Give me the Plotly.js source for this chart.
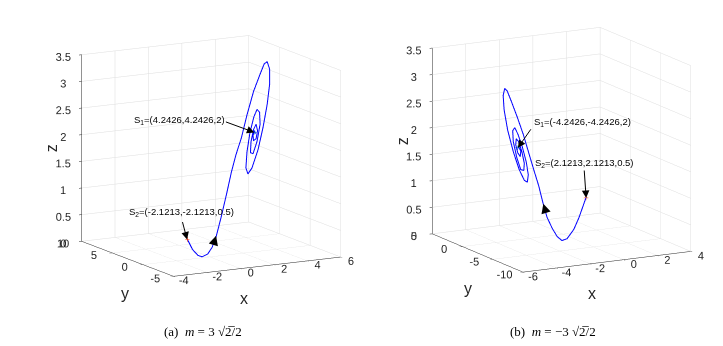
<!DOCTYPE html>
<html>
<head>
<meta charset="utf-8">
<script src="https://cdn.plot.ly/plotly-3.0.1.min.js"></script>
<style>
  body { margin: 0; background: #fff; }
  #plot { width: 723px; height: 346px; }
</style>
</head>
<body>
<div id="plot"></div>
<script>
// trajectory (a), m = 3*sqrt(2)/2
var xa = [-2.12, -1.63, -1.13, -0.73, -0.20, 0.21, 0.62, 1.07, 1.59, 2.04, 2.47, 2.99, 3.52, 4.14, 4.75, 5.13, 5.42, 5.65, 5.65, 5.42, 5.03, 4.56, 3.98, 3.60, 3.41, 3.51, 3.79, 4.17, 4.46, 4.70, 4.75, 4.46, 4.08, 3.84, 3.89, 4.13, 4.37, 4.51, 4.37, 4.13, 4.08, 4.22, 4.32, 4.24];
var ya = [-2.12, -1.63, -1.13, -0.73, -0.20, 0.21, 0.62, 1.07, 1.59, 2.04, 2.47, 2.99, 3.52, 4.14, 4.75, 5.13, 5.42, 5.65, 5.65, 5.42, 5.03, 4.56, 3.98, 3.60, 3.41, 3.51, 3.79, 4.17, 4.46, 4.70, 4.75, 4.46, 4.08, 3.84, 3.89, 4.13, 4.37, 4.51, 4.37, 4.13, 4.08, 4.22, 4.32, 4.24];
var za = [0.50, 0.27, 0.12, 0.06, 0.07, 0.16, 0.35, 0.66, 1.06, 1.43, 1.72, 2.00, 2.39, 2.78, 3.05, 3.21, 3.23, 3.07, 2.79, 2.43, 2.03, 1.65, 1.35, 1.27, 1.40, 1.69, 2.03, 2.30, 2.41, 2.34, 2.11, 1.81, 1.61, 1.65, 1.85, 2.06, 2.14, 2.01, 1.87, 1.85, 1.95, 2.03, 1.97, 2.00];

// trajectory (b), m = -3*sqrt(2)/2
var xb = [2.12, 1.12, 0.48, -0.50, -0.87, -0.94, -1.37, -1.73, -1.87, -2.28, -2.75, -3.22, -3.71, -4.28, -4.84, -5.21, -5.45, -5.59, -5.50, -5.17, -4.65, -4.09, -3.62, -3.34, -3.25, -3.43, -3.81, -4.23, -4.51, -4.70, -4.65, -4.32, -3.95, -3.67, -3.62, -3.85, -4.14, -4.37, -4.42, -4.23, -4.00, -3.95, -4.14, -4.20, -4.24];
var yb = [2.12, 0.51, -0.42, -2.02, -2.21, -1.61, -1.98, -2.13, -1.87, -2.28, -2.75, -3.22, -3.71, -4.28, -4.84, -5.21, -5.45, -5.59, -5.50, -5.17, -4.65, -4.09, -3.62, -3.34, -3.25, -3.43, -3.81, -4.23, -4.51, -4.70, -4.65, -4.32, -3.95, -3.67, -3.62, -3.85, -4.14, -4.37, -4.42, -4.23, -4.00, -3.95, -4.14, -4.20, -4.24];
var zb = [0.50, 0.24, 0.09, 0.03, 0.02, 0.07, 0.26, 0.49, 0.74, 1.11, 1.46, 1.82, 2.20, 2.58, 2.93, 3.15, 3.22, 3.10, 2.82, 2.41, 1.96, 1.57, 1.33, 1.27, 1.40, 1.65, 1.98, 2.26, 2.40, 2.36, 2.15, 1.82, 1.56, 1.52, 1.65, 1.89, 2.10, 2.18, 2.07, 1.90, 1.81, 1.90, 2.02, 1.98, 2.00];

// equilibria
var s1a = [4.2426, 4.2426, 2], s2a = [-2.1213, -2.1213, 0.5];
var s1b = [-4.2426, -4.2426, 2], s2b = [2.1213, 2.1213, 0.5];

// ticks
var xticksA = [-4, -2, 0, 2, 4, 6], yticksA = [-5, 0, 5, 10];
var xticksB = [-6, -4, -2, 0, 2, 4], yticksB = [-10, -5, 0, 5];
var zticks = [0, 0.5, 1, 1.5, 2, 2.5, 3, 3.5];

var tickFont = {family: "Liberation Sans, Arial", size: 11.5, color: "#262626"};
var titleFont = {family: "Liberation Sans, Arial", size: 16, color: "#262626"};

function axis(range, ticks) {
    return {
        title: {text: ""},      // drawn as annotations below, matlab style
        range: range,
        tickvals: ticks,
        ticktext: ticks.map(v => String(v)),   // plain hyphen minus like matlab
        tickfont: tickFont,
        tickangle: 0,
        showbackground: false,
        gridcolor: "#dedede",
        gridwidth: 1,
        showline: true,
        linecolor: "#262626",
        linewidth: 1,
        zeroline: false,
        showspikes: false,
        ticks: "outside",
        ticklen: 3,
        tickcolor: "#262626"
    };
}

function traj(x, y, z, scene) {
    return {
        type: "scatter3d", mode: "lines", scene: scene,
        x: x, y: y, z: z,
        line: {color: "#0000ff", width: 2},
        hoverinfo: "skip", showlegend: false
    };
}

function pt(p, scene, color) {
    return {
        type: "scatter3d", mode: "markers", scene: scene,
        x: [p[0]], y: [p[1]], z: [p[2]],
        marker: {color: color, size: 2.5, symbol: "cross"},
        hoverinfo: "skip", showlegend: false
    };
}

var traces = [
    traj(xa, ya, za, "scene"),
    pt(s2a, "scene", "#ff3300"),
    pt(s1a, "scene", "#2090b0"),
    traj(xb, yb, zb, "scene2"),
    pt(s2b, "scene2", "#ff3300"),
    pt(s1b, "scene2", "#2090b0")
];

var labFont = {family: "Liberation Sans, Arial", size: 9.5, color: "#000"};

function arrow(p, ax, ay, sz) {
    return {x: p[0], y: p[1], z: p[2], text: "", showarrow: true,
            arrowhead: 2, arrowsize: sz || 1.5, arrowwidth: 1, arrowcolor: "#000",
            ax: ax, ay: ay};
}
function label(p, txt, dx, dy) {
    return {x: p[0], y: p[1], z: p[2], text: txt, showarrow: false,
            font: labFont, xshift: dx, yshift: dy};
}
function axTitle(p, txt, dx, dy, ang) {
    return {x: p[0], y: p[1], z: p[2], text: txt, showarrow: false,
            font: titleFont, xshift: dx, yshift: dy, textangle: ang || 0};
}

function cam(cx, cy, cz) {
    return {
        eye: {x: -0.96, y: -1.71, z: 0.40},
        up: {x: 0, y: 0, z: 1},
        center: {x: cx, y: cy, z: cz},
        projection: {type: "orthographic"}
    };
}

var box = {x: 1.2, y: 1.2, z: 1.2};
var capFont = {family: "Liberation Serif, Times New Roman", size: 13, color: "#000"};

// anchors kept just inside the box, plotly drops annotations sitting on the range edge
var layout = {
    width: 723, height: 346,
    margin: {l: 0, r: 0, t: 0, b: 0},
    paper_bgcolor: "#fff",
    showlegend: false,
    scene: {
        domain: {x: [0.058, 0.518], y: [0.08, 1]},
        xaxis: axis([-4, 6], xticksA),
        yaxis: axis([-5, 10], yticksA),
        zaxis: axis([0, 3.5], zticks),
        aspectmode: "manual",
        aspectratio: box,
        camera: cam(-0.015, 0.008, -0.02),
        annotations: [
            arrow(s1a, -30, -11),
            label(s1a, "S<sub>1</sub>=(4.2426,4.2426,2)", -75, 12),
            arrow(s2a, -5, -19),
            label(s2a, "S<sub>2</sub>=(-2.1213,-2.1213,0.5)", -6, 28),
            arrow([xa[6], ya[6], za[6]], -3, 10, 1.9),
            axTitle([1, -4.98, 0.01], "x", -13, -32),
            axTitle([-3.98, 2.5, 0.01], "y", -3, -35),
            axTitle([-3.98, 9.98, 1.75], "z", -31, 0, -90)
        ]
    },
    scene2: {
        domain: {x: [0.54, 1.0], y: [0.08, 1]},
        xaxis: axis([-6, 4], xticksB),
        yaxis: axis([-10, 5], yticksB),
        zaxis: axis([0, 3.5], zticks),
        aspectmode: "manual",
        aspectratio: box,
        camera: cam(-0.0275, 0.0155, -0.06),
        annotations: [
            arrow(s1b, 14, -20),
            label(s1b, "S<sub>1</sub>=(-4.2426,-4.2426,2)", 65, 26),
            arrow(s2b, -2, -29),
            label(s2b, "S<sub>2</sub>=(2.1213,2.1213,0.5)", -2, 35),
            arrow([xb[8], yb[8], zb[8]], 3, 10, 1.9),
            axTitle([-1, -9.98, 0.01], "x", -15, -32),
            axTitle([-5.98, -2.5, 0.01], "y", -10, -36),
            axTitle([-5.98, 4.98, 1.75], "z", -31, 0, -90)
        ]
    },
    annotations: [
        {xref: "paper", yref: "paper", x: 0.281, y: 0.043, xanchor: "center", yanchor: "middle",
         showarrow: false, text: "(a)  <i>m</i> = 3 √2̅/2", font: capFont},
        {xref: "paper", yref: "paper", x: 0.765, y: 0.043, xanchor: "center", yanchor: "middle",
         showarrow: false, text: "(b)  <i>m</i> = −3 √2̅/2", font: capFont}
    ]
};

Plotly.newPlot("plot", traces, layout, {displayModeBar: false});
</script>
</body>
</html>
